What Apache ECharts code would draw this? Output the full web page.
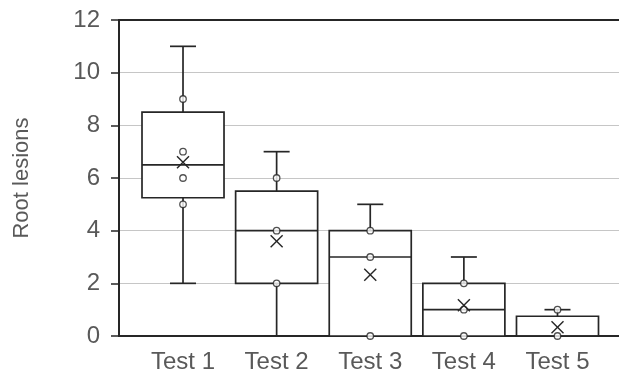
<!DOCTYPE html>
<html>
<head>
<meta charset="utf-8">
<script src="https://cdn.jsdelivr.net/npm/echarts@6/dist/echarts.min.js"></script>
<style>html,body{margin:0;padding:0;background:#fff}#c{width:619px;height:376px}</style>
</head>
<body>
<div id="c"></div>
<script>
// ---- data ----
const categories = ['Test 1', 'Test 2', 'Test 3', 'Test 4', 'Test 5'];
// [min, Q1, median, Q3, max]
const boxStats = [
  [2, 5.25, 6.5, 8.5, 11],
  [0, 2, 4, 5.5, 7],
  [0, 0, 3, 4, 5],
  [0, 0, 1, 2, 3],
  [0, 0, 0, 0.75, 1]
];
const means = [6.6, 3.6, 2.33, 1.17, 0.33];
// individual points: [category index, value]
const points = [
  [0, 9], [0, 7], [0, 6], [0, 5],
  [1, 6], [1, 4], [1, 2],
  [2, 4], [2, 3], [2, 0],
  [3, 2], [3, 1], [3, 0],
  [4, 1], [4, 0]
];
const yTicks = [0, 2, 4, 6, 8, 10, 12];
const yTitle = 'Root lesions';

// ---- styles ----
const DARK = '#262626';
const TEXT = '#595959';
const GRIDC = '#c6c6c6';
const FONT_H = '"Liberation Sans Narrow", "Arial Narrow", "Liberation Sans", Arial, sans-serif';
const FONT = '"Liberation Sans", Arial, sans-serif';

const chart = echarts.init(document.getElementById('c'), null, { renderer: 'canvas' });

const boxData = boxStats.map((s, i) => [i].concat(s));
const meanData = means.map((m, i) => [i, m]);

const option = {
  animation: false,
  grid: [
    { left: 119, right: 0, top: 20, bottom: 40 },
    { left: 136.2, right: 14.7, top: 20, bottom: 40 }
  ],
  xAxis: [
    { gridIndex: 0, type: 'value', min: 0, max: 1, position: 'bottom',
      axisLine: { show: true, onZero: false, lineStyle: { color: DARK, width: 2 } },
      axisTick: { show: false }, axisLabel: { show: false }, splitLine: { show: false } },
    { gridIndex: 0, type: 'value', min: 0, max: 1, position: 'top',
      axisLine: { show: true, onZero: false, lineStyle: { color: DARK, width: 2 } },
      axisTick: { show: false }, axisLabel: { show: false }, splitLine: { show: false } },
    { gridIndex: 1, type: 'category', data: categories, boundaryGap: true,
      axisLine: { show: false }, axisTick: { show: false }, splitLine: { show: false },
      axisLabel: { color: TEXT, fontSize: 24, fontFamily: FONT_H, margin: 14 } }
  ],
  yAxis: [
    { gridIndex: 0, type: 'value', min: yTicks[0], max: yTicks[yTicks.length - 1],
      interval: yTicks[1] - yTicks[0],
      name: yTitle, nameLocation: 'middle', nameGap: 86,
      nameTextStyle: { color: TEXT, fontSize: 22, fontFamily: FONT },
      axisLine: { show: true, lineStyle: { color: DARK, width: 2 } },
      axisTick: { show: true, length: 8, lineStyle: { color: DARK, width: 1.5 } },
      axisLabel: { color: TEXT, fontSize: 24, fontFamily: FONT_H, margin: 19 },
      splitLine: { show: true, lineStyle: { color: GRIDC, width: 1.2 } } },
    { gridIndex: 1, type: 'value', min: yTicks[0], max: yTicks[yTicks.length - 1], show: false }
  ],
  series: [
    {
      type: 'custom', xAxisIndex: 2, yAxisIndex: 1, z: 3,
      data: boxData,
      encode: { x: 0, y: [1, 2, 3, 4, 5] },
      renderItem: function (params, api) {
        const i = api.value(0);
        const lo = api.coord([i, api.value(1)]);
        const q1 = api.coord([i, api.value(2)]);
        const md = api.coord([i, api.value(3)]);
        const q3 = api.coord([i, api.value(4)]);
        const hi = api.coord([i, api.value(5)]);
        const bw = api.size([1, 0])[0] * 0.876;
        const x = lo[0];
        const cap = 13;
        const ls = { stroke: DARK, lineWidth: 1.7, fill: null };
        const children = [];
        children.push({ type: 'line', shape: { x1: x, y1: q3[1], x2: x, y2: hi[1] }, style: ls });
        children.push({ type: 'line', shape: { x1: x - cap, y1: hi[1], x2: x + cap, y2: hi[1] }, style: ls });
        children.push({ type: 'line', shape: { x1: x, y1: q1[1], x2: x, y2: lo[1] }, style: ls });
        children.push({ type: 'line', shape: { x1: x - cap, y1: lo[1], x2: x + cap, y2: lo[1] }, style: ls });
        children.push({ type: 'rect', shape: { x: x - bw / 2, y: q3[1], width: bw, height: q1[1] - q3[1] },
          style: { fill: '#fff', stroke: DARK, lineWidth: 1.7 } });
        children.push({ type: 'line', shape: { x1: x - bw / 2, y1: md[1], x2: x + bw / 2, y2: md[1] }, style: ls });
        return { type: 'group', children: children };
      }
    },
    {
      type: 'scatter', xAxisIndex: 2, yAxisIndex: 1, z: 4,
      data: points, symbol: 'circle', symbolSize: 6.5,
      itemStyle: { color: '#fff', borderColor: DARK, borderWidth: 1.3 }
    },
    {
      type: 'custom', xAxisIndex: 2, yAxisIndex: 1, z: 5,
      data: meanData,
      renderItem: function (params, api) {
        const p = api.coord([api.value(0), api.value(1)]);
        const h = 6;
        const st = { stroke: DARK, lineWidth: 1.4, fill: null };
        return { type: 'group', children: [
          { type: 'line', shape: { x1: p[0] - h, y1: p[1] - h, x2: p[0] + h, y2: p[1] + h }, style: st },
          { type: 'line', shape: { x1: p[0] - h, y1: p[1] + h, x2: p[0] + h, y2: p[1] - h }, style: st }
        ] };
      }
    }
  ]
};
chart.setOption(option);
</script>
</body>
</html>
